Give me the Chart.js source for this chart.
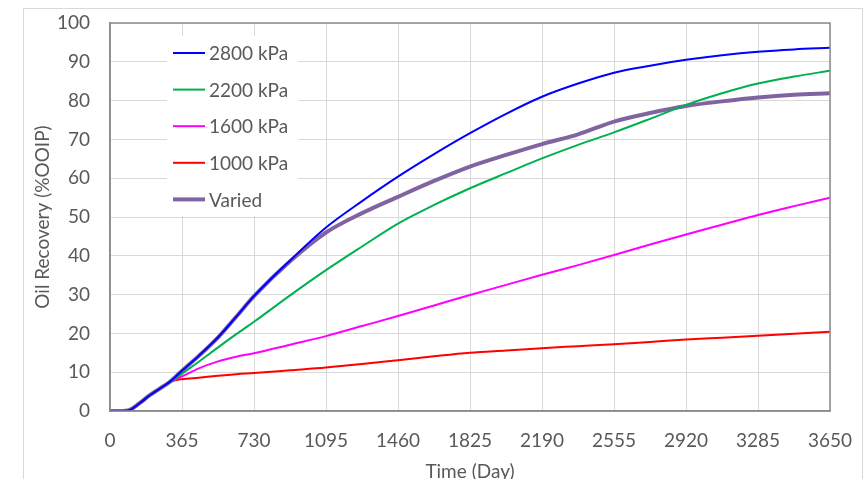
<!DOCTYPE html>
<html>
<head>
<meta charset="utf-8">
<script src="https://cdn.jsdelivr.net/npm/chart.js@4/dist/chart.umd.min.js"></script>
<style>
  html, body { margin: 0; padding: 0; background: #fff; }
  #wrap { width: 866px; height: 479px; position: relative; }
</style>
</head>
<body>
<div id="wrap"><canvas id="recoveryChart" width="866" height="479"></canvas></div>
<script>
// Time steps (days)
const days = [0, 50, 100, 150, 200, 250, 300, 330, 365, 450, 548, 640, 730, 913, 1095, 1278, 1460, 1643, 1825, 2008, 2190, 2373, 2555, 2738, 2920, 3103, 3285, 3468, 3650];

// Oil recovery (%OOIP) per injection pressure
const p2800 = [0, 0, 0.3, 2.0, 4.0, 5.7, 7.4, 8.7, 10.4, 14.2, 19.0, 24.3, 29.6, 38.8, 47.3, 54.1, 60.4, 66.2, 71.6, 76.6, 81.0, 84.4, 87.2, 89.0, 90.5, 91.7, 92.6, 93.2, 93.6];
const p2200 = [0, 0, 0.3, 2.0, 4.0, 5.7, 7.3, 8.3, 9.6, 12.7, 16.4, 19.8, 23.0, 29.8, 36.3, 42.4, 48.3, 53.1, 57.4, 61.3, 65.1, 68.6, 71.8, 75.3, 78.9, 81.9, 84.4, 86.2, 87.7];
const p1600 = [0, 0, 0.3, 2.0, 4.0, 5.7, 7.3, 8.1, 8.9, 11.0, 12.8, 14.0, 14.9, 17.1, 19.3, 21.9, 24.5, 27.2, 29.9, 32.5, 35.1, 37.6, 40.2, 42.9, 45.5, 48.0, 50.5, 52.8, 55.0];
const p1000 = [0, 0, 0.3, 2.0, 4.0, 5.7, 7.3, 7.9, 8.2, 8.6, 9.1, 9.5, 9.8, 10.5, 11.2, 12.1, 13.1, 14.1, 15.0, 15.6, 16.2, 16.7, 17.2, 17.8, 18.4, 18.9, 19.4, 19.9, 20.4];
const varied = [0, 0, 0.3, 2.0, 4.0, 5.7, 7.4, 8.7, 10.4, 14.2, 19.0, 24.3, 29.6, 38.6, 46.0, 51.0, 55.2, 59.3, 63.0, 66.0, 68.8, 71.3, 74.6, 76.8, 78.6, 79.8, 80.8, 81.5, 81.9];

const xTicks = [0, 365, 730, 1095, 1460, 1825, 2190, 2555, 2920, 3285, 3650];

const FONT = 'Lato, "Open Sans", sans-serif';
const TEXT = '#595959';

function pts(vals) {
    return days.map((d, i) => ({ x: d, y: vals[i] }));
}

// light outer frame like the spreadsheet chart border, plus the plot box
const framePlugin = {
    id: 'frame',
    beforeDraw(chart) {
        const ctx = chart.ctx;
        ctx.save();
        ctx.fillStyle = '#fff';
        ctx.fillRect(0, 0, chart.width, chart.height);
        ctx.strokeStyle = '#d9d9d9';
        ctx.lineWidth = 1;
        ctx.strokeRect(23.5, 8.5, 839, 500);
        ctx.restore();
    },
    afterDatasetsDraw(chart) {
        const a = chart.chartArea;
        const ctx = chart.ctx;
        ctx.save();
        ctx.strokeStyle = '#8c8c8c';
        ctx.lineWidth = 1.5;
        ctx.strokeRect(a.left, a.top, a.right - a.left, a.bottom - a.top);
        ctx.restore();
    }
};

// legend drawn inside the plot, upper left
const insideLegend = {
    id: 'insideLegend',
    afterDraw(chart) {
        const ctx = chart.ctx;
        ctx.save();
        ctx.fillStyle = '#fff';
        ctx.fillRect(167, 36, 131, 180);
        ctx.font = '19px ' + FONT;
        ctx.textBaseline = 'middle';
        ctx.textAlign = 'left';
        chart.data.datasets.forEach((ds, i) => {
            const y = 53 + i * 36.6;
            ctx.strokeStyle = ds.borderColor;
            ctx.lineWidth = ds.borderWidth;
            ctx.beginPath();
            ctx.moveTo(173, y);
            ctx.lineTo(205, y);
            ctx.stroke();
            ctx.fillStyle = TEXT;
            ctx.fillText(ds.label, 209, y + 1);
        });
        ctx.restore();
    }
};

const ctx = document.getElementById('recoveryChart').getContext('2d');
const recoveryChart = new Chart(ctx, {
    type: 'line',
    data: {
        datasets: [
            { label: '2800 kPa', data: pts(p2800), borderColor: '#0000ff', borderWidth: 2 },
            { label: '2200 kPa', data: pts(p2200), borderColor: '#00b050', borderWidth: 2 },
            { label: '1600 kPa', data: pts(p1600), borderColor: '#ff00ff', borderWidth: 2 },
            { label: '1000 kPa', data: pts(p1000), borderColor: '#ff0000', borderWidth: 2 },
            { label: 'Varied', data: pts(varied), borderColor: '#8064a2', borderWidth: 4 }
        ]
    },
    options: {
        responsive: false,
        animation: false,
        elements: {
            point: { radius: 0 },
            line: { cubicInterpolationMode: 'monotone', fill: false, borderCapStyle: 'round', borderJoinStyle: 'round' }
        },
        layout: { padding: { left: 27, top: 23, right: 36, bottom: 0 } },
        plugins: {
            legend: { display: false },
            tooltip: { enabled: false }
        },
        scales: {
            x: {
                type: 'linear',
                min: 0,
                max: 3650,
                afterBuildTicks(scale) {
                    scale.ticks = xTicks.map(v => ({ value: v }));
                },
                afterFit(scale) {
                    scale.height = 68;
                    scale.paddingLeft = 0;
                    scale.paddingRight = 0;
                },
                grid: { color: '#d9d9d9', lineWidth: 1, drawTicks: false },
                border: { color: '#8c8c8c', width: 1.5 },
                ticks: {
                    color: TEXT, font: { family: FONT, size: 19 }, padding: 18, maxRotation: 0,
                    callback: v => String(v)
                },
                title: {
                    display: true,
                    text: 'Time (Day)',
                    color: TEXT,
                    font: { family: FONT, size: 19 },
                    padding: { top: 0, bottom: -4 }
                }
            },
            y: {
                min: 0,
                max: 100,
                afterFit(scale) {
                    scale.width = 110 - 27;
                    scale.paddingTop = 0;
                    scale.paddingBottom = 0;
                },
                grid: { color: '#d9d9d9', lineWidth: 1, drawTicks: false },
                border: { color: '#8c8c8c', width: 1.5 },
                ticks: { stepSize: 10, color: TEXT, font: { family: FONT, size: 19 }, padding: 20 },
                title: {
                    display: true,
                    text: 'Oil Recovery (%OOIP)',
                    color: TEXT,
                    font: { family: FONT, size: 19 },
                    padding: { top: 4, bottom: 0 }
                }
            }
        }
    },
    plugins: [framePlugin, insideLegend]
});
</script>
</body>
</html>
